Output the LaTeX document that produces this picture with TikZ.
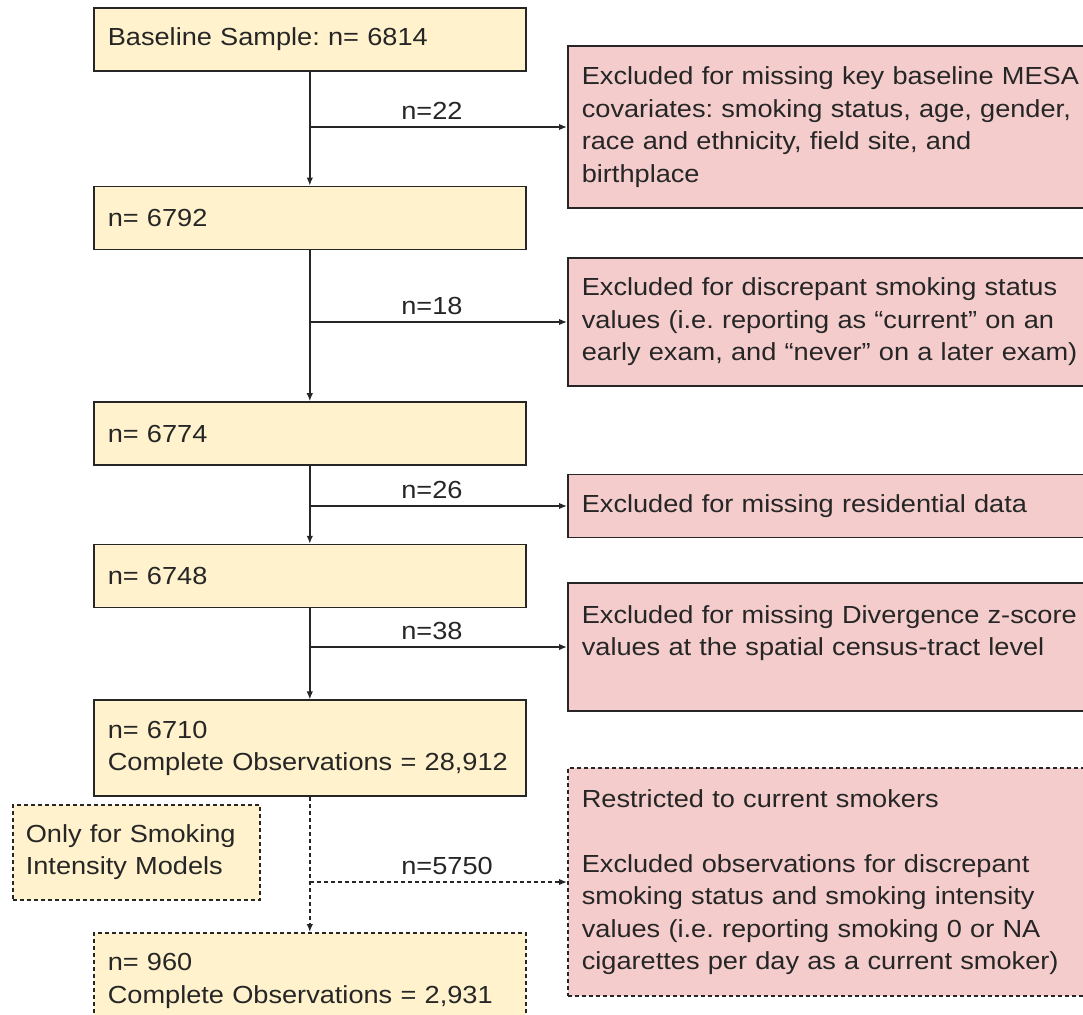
\documentclass[tikz,border=0pt]{standalone}
\usepackage{fontspec}
\setmainfont{Liberation Sans}[FakeStretch=1.1]
\usetikzlibrary{arrows.meta,positioning}
\definecolor{keptfill}{HTML}{FFF2CC}
\definecolor{exclfill}{HTML}{F4CCCC}
\definecolor{edge}{HTML}{262626}
\frenchspacing

\begin{document}
\begin{tikzpicture}[
    x=1pt, y=-1pt,
    every node/.style={font=\fontsize{24.7}{32.5}\selectfont, text=black!85},
    kept/.style={draw=edge, line width=1.6pt, fill=keptfill, align=left, text width=404pt, inner xsep=14pt, minimum height=63pt},
    excl/.style={draw=edge, line width=1.6pt, fill=exclfill, align=left, text width=512pt, inner xsep=14pt, anchor=west},
    optional/.style={dash pattern=on 4pt off 3pt},
    flow/.style={-{Latex[length=8pt,width=6.5pt]}, line width=1.5pt, draw=edge},
    lbl/.style={pos=0.353, anchor=base west, yshift=8pt, inner sep=0pt}
]
\useasboundingbox (0,0) rectangle (1083,1014);
\clip (0,0) rectangle (1083,1014);

% sample kept at each step
\node[kept, anchor=north west] (base) at (93,7) {Baseline Sample: n= 6814};
\node[kept, below=114pt of base] (n6792) {n= 6792};
\node[kept, below=151pt of n6792] (n6774) {n= 6774};
\node[kept, below=78pt of n6774] (n6748) {n= 6748};
\node[kept, below=91pt of n6748, minimum height=96pt] (n6710) {n= 6710\\Complete Observations = 28,912};
\node[kept, optional, below=135pt of n6710, minimum height=96pt] (n960) {n= 960\\Complete Observations = 2,931};
\node[kept, optional, anchor=north west, text width=221pt, inner xsep=13pt, minimum height=95pt] (note) at (12,804) {Only for Smoking\\Intensity Models};

% exclusions
\node[excl, minimum height=162pt] (exA) at (567,127) {Excluded for missing key baseline MESA\\covariates: smoking status, age, gender,\\race and ethnicity, field site, and\\birthplace};
\node[excl, minimum height=128pt] (exB) at (567,322) {Excluded for discrepant smoking status\\values (i.e. reporting as “current” on an\\early exam, and “never” on a later exam)};
\node[excl, minimum height=63pt] (exC) at (567,506) {Excluded for missing residential data};
\node[excl, minimum height=128pt] (exD) at (567,647) {Excluded for missing Divergence z-score\\values at the spatial census-tract level\\\mbox{}};
\node[excl, optional, minimum height=228pt] (exE) at (567,882) {Restricted to current smokers\\[32.5pt]Excluded observations for discrepant\\smoking status and smoking intensity\\values (i.e. reporting smoking 0 or NA\\cigarettes per day as a current smoker)};

\coordinate (j22) at (base.south |- exA.west);
\coordinate (j18) at (base.south |- exB.west);
\coordinate (j26) at (base.south |- exC.west);
\coordinate (j38) at (base.south |- exD.west);
\coordinate (j5750) at (base.south |- exE.west);

\draw[flow] (base) -- (n6792);
\draw[flow] (n6792) -- (n6774);
\draw[flow] (n6774) -- (n6748);
\draw[flow] (n6748) -- (n6710);
\draw[flow, optional] (n6710) -- (n960);

\draw[flow] (j22) -- node[lbl] {n=22} (exA.west);
\draw[flow] (j18) -- node[lbl] {n=18} (exB.west);
\draw[flow] (j26) -- node[lbl] {n=26} (exC.west);
\draw[flow] (j38) -- node[lbl] {n=38} (exD.west);
\draw[flow, optional] (j5750) -- node[lbl] {n=5750} (exE.west);
\end{tikzpicture}
\end{document}
